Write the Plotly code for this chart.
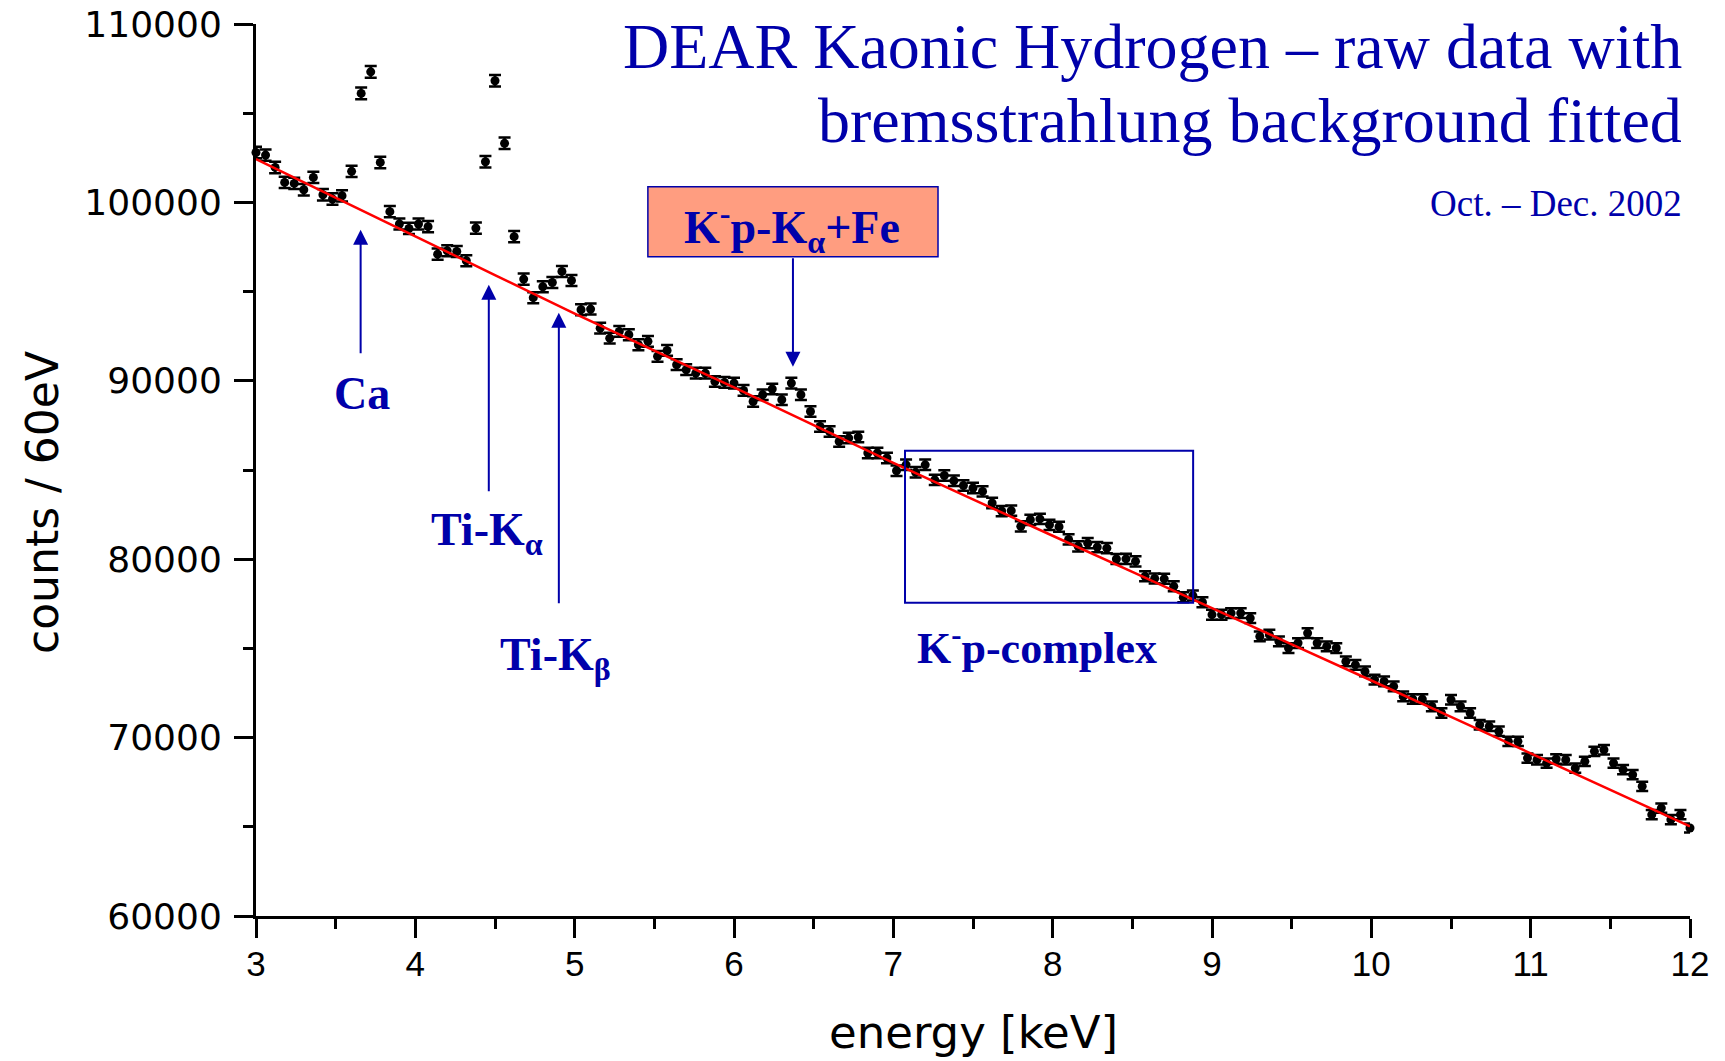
import numpy as np
import plotly.graph_objects as go

# ---------------- data ----------------
bin_start_keV = 3.0
bin_width_keV = 0.06
counts = [
    102800, 102650, 101960, 101120, 101065, 100710, 101400, 100430, 100190, 100370,
    101740, 106110, 107320, 102240, 99480, 98790, 98540, 98790, 98640, 97100,
    97290, 97250, 96730, 98560, 102280, 106820, 103310, 98080, 95700, 94660,
    95270, 95510, 96130, 95625, 93980, 94020, 92950, 92390, 92770, 92580,
    92020, 92210, 91370, 91700, 90900, 90620, 90430, 90430, 89960, 89910,
    89870, 89460, 88840, 89220, 89540, 88940, 89870, 89220, 88280, 87440,
    87160, 86600, 86790, 86850, 85950, 85950, 85670, 84960, 85290, 84870,
    85290, 84450, 84690, 84400, 84130, 83990, 83800, 83150, 82700, 82720,
    81840, 82210, 82260, 81930, 81820, 81110, 80720, 80900, 80680, 80620,
    80010, 80020, 79880, 79040, 78920, 78900, 78480, 77870, 77960, 77590,
    76890, 76890, 76980, 76980, 76700, 75670, 75770, 75390, 75020, 75300,
    75860, 75300, 75110, 75020, 74270, 74080, 73710, 73250, 73150, 72870,
    72310, 72160, 72160, 71750, 71380, 72120, 71750, 71380, 70720, 70630,
    70350, 69790, 69790, 68850, 68760, 68570, 68800, 68760, 68290, 68670,
    69230, 69320, 68570, 68200, 67920, 67270, 65680, 66050, 65400, 65680,
    64930,
]
energy = np.round(bin_start_keV + bin_width_keV * np.arange(len(counts)), 2)
counts_err = np.sqrt(np.array(counts, dtype=float))  # Poisson errors

# bremsstrahlung background fit (read at integer energies)
fit_energy = [3, 4, 5, 6, 7, 8, 9, 10, 11, 12]
fit_counts = [102430, 98100, 93760, 89630, 85400, 81315, 77260, 73200, 69116, 65024]

x_ticks = [3, 4, 5, 6, 7, 8, 9, 10, 11, 12]
y_ticks = [60000, 70000, 80000, 90000, 100000, 110000]

title_line1 = "DEAR Kaonic Hydrogen – raw data with"
title_line2 = "bremsstrahlung background fitted"
subtitle = "Oct. – Dec. 2002"

# ---------------- styling ----------------
BLUE = "#0000AA"
SANS = "DejaVu Sans"
SERIF = "Liberation Serif"

fig = go.Figure()

fig.add_trace(go.Scatter(
    x=energy, y=counts, mode="markers",
    marker=dict(color="black", size=9, symbol="circle"),
    error_y=dict(type="data", array=counts_err, color="black", thickness=2.5, width=6),
    cliponaxis=False, showlegend=False, hoverinfo="x+y",
))

fig.add_trace(go.Scatter(
    x=fit_energy, y=fit_counts, mode="lines",
    line=dict(color="red", width=2.5, shape="spline", smoothing=0.6),
    showlegend=False, hoverinfo="skip",
))

axis_common = dict(
    showline=True, linecolor="black", linewidth=3,
    ticks="outside", ticklen=19, tickwidth=2.5, tickcolor="black",
    showgrid=False, zeroline=False, automargin=False,
)

fig.update_xaxes(
    range=[3, 12], tickvals=x_ticks, ticktext=[str(v) for v in x_ticks],
    tickfont=dict(family="Liberation Sans", size=35, color="black"),
    ticklabelstandoff=-4,
    minor=dict(ticks="outside", dtick=0.5, tick0=3, ticklen=10, tickwidth=2.5,
               tickcolor="black", showgrid=False),
    **axis_common,
)
fig.update_yaxes(
    range=[60000, 110000], tickvals=y_ticks, ticktext=[str(v) for v in y_ticks],
    tickfont=dict(family=SANS, size=36, color="black"),
    ticklabelstandoff=5,
    minor=dict(ticks="outside", dtick=5000, tick0=60000, ticklen=10, tickwidth=2.5,
               tickcolor="black", showgrid=False),
    **axis_common,
)

annotations = [
    # axis titles
    dict(text="energy [keV]", xref="paper", yref="paper", x=0.5, y=0,
         xanchor="center", yanchor="middle", yshift=-116, showarrow=False,
         font=dict(family=SANS, size=45, color="black")),
    dict(text="counts / 60eV", xref="paper", yref="paper", x=0, y=0.463,
         xanchor="center", yanchor="middle", xshift=-214, textangle=-90, showarrow=False,
         font=dict(family=SANS, size=44, color="black")),
    # titles
    dict(text=title_line1, xref="paper", yref="paper", x=0.9958, y=0.9753,
         xanchor="right", yanchor="middle", showarrow=False,
         font=dict(family=SERIF, size=64, color=BLUE)),
    dict(text=title_line2, xref="paper", yref="paper", x=0.9958, y=0.8913,
         xanchor="right", yanchor="middle", showarrow=False,
         font=dict(family=SERIF, size=64, color=BLUE)),
    dict(text=subtitle, xref="paper", yref="paper", x=0.9958, y=0.7993,
         xanchor="right", yanchor="middle", showarrow=False,
         font=dict(family=SERIF, size=37, color=BLUE)),
    # labels
    dict(text="<b>Ca</b>", x=3.6637, y=89271, xanchor="center", yanchor="middle",
         showarrow=False, font=dict(family=SERIF, size=46, color=BLUE)),
    dict(text="<b>Ti-K<sub>α</sub></b>", x=4.0844, y=81480, xanchor="left", yanchor="middle",
         showarrow=False, font=dict(family=SERIF, size=46, color=BLUE)),
    dict(text="<b>Ti-K<sub>β</sub></b>", x=4.5174, y=74473, xanchor="left", yanchor="middle",
         showarrow=False, font=dict(family=SERIF, size=46, color=BLUE)),
    dict(text="<b>K<sup>-</sup>p-K<sub>α</sub>+Fe</b>", x=5.673, y=98576, xanchor="left",
         yanchor="middle", showarrow=False, font=dict(family=SERIF, size=46, color=BLUE)),
    dict(text="<b>K<sup>-</sup>p-complex</b>", x=7.1356, y=75146, xanchor="left",
         yanchor="middle", showarrow=False, font=dict(family=SERIF, size=44, color=BLUE)),
]

# arrows (tip at x,y; tail offset in pixels)
arrow_style = dict(text="", showarrow=True, arrowhead=2, arrowsize=1.5, arrowwidth=2,
                   arrowcolor=BLUE, standoff=0, startstandoff=0, ax=0)
annotations += [
    dict(x=3.6567, y=98464, ay=125, **arrow_style),
    dict(x=4.4611, y=95381, ay=208, **arrow_style),
    dict(x=4.9007, y=93812, ay=292, **arrow_style),
    dict(x=6.370, y=90785, ay=-110, **arrow_style),
]

shapes = [
    dict(type="rect", xref="x", yref="y", x0=5.4595, x1=7.2804, y0=96951, y1=100874,
         fillcolor="#FF9D80", line=dict(color=BLUE, width=1.5), layer="above"),
    dict(type="rect", xref="x", yref="y", x0=7.0733, x1=8.8816, y0=77556, y1=86076,
         fillcolor="rgba(0,0,0,0)", line=dict(color=BLUE, width=2), layer="above"),
]

fig.update_layout(
    width=1725, height=1061,
    margin=dict(l=256, r=35, t=24, b=145),
    paper_bgcolor="white", plot_bgcolor="white",
    annotations=annotations, shapes=shapes,
    showlegend=False,
)

fig.write_html("out.html")
